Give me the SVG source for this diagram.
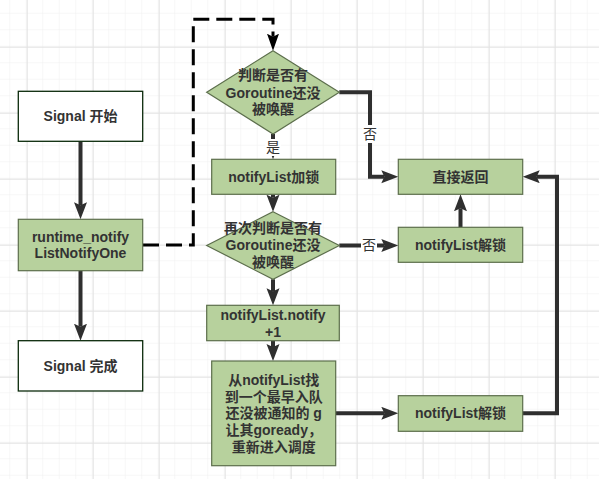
<svg xmlns="http://www.w3.org/2000/svg" width="599" height="479" viewBox="0 0 599 479">
<defs>
<pattern id="minor" x="10.2" y="13.7" width="16.5" height="16.5" patternUnits="userSpaceOnUse">
<path d="M16.5,0 V16.5 M0,16.5 H16.5" fill="none" stroke="#f0f0f0" stroke-width="1"/>
</pattern>
<pattern id="major" x="26.7" y="46.7" width="66" height="66" patternUnits="userSpaceOnUse">
<path d="M0.5,0 V66 M0,0.5 H66" fill="none" stroke="#e2e2e2" stroke-width="1"/>
</pattern>
<marker id="arr" markerUnits="userSpaceOnUse" markerWidth="18" markerHeight="14" refX="3" refY="6.5" orient="auto">
<path d="M0,0 L17,6.5 L0,13 L3,6.5 Z" fill="#2f2f2f"/>
</marker>
<marker id="arrk" markerUnits="userSpaceOnUse" markerWidth="18" markerHeight="14" refX="3" refY="6" orient="auto">
<path d="M0,0 L17,6 L0,12 L3,6 Z" fill="#000"/>
</marker>
<style>
.g{fill:#b7d19d;stroke:#5c6e4c;stroke-width:1.2}
.w{fill:#ffffff;stroke:#0b2a0b;stroke-width:1.3}
.t{font-family:"Liberation Sans","Noto Sans CJK SC",sans-serif;font-size:14px;font-weight:bold;fill:#333333;text-anchor:middle}
.l{font-family:"Liberation Sans","Noto Sans CJK SC",sans-serif;font-size:14px;fill:#333333;text-anchor:middle}
.c{fill:none;stroke:#2f2f2f;stroke-width:4;marker-end:url(#arr)}
.d{fill:none;stroke:#000;stroke-width:3;stroke-dasharray:16 7;marker-end:url(#arrk)}
</style>
</defs>
<rect width="599" height="479" fill="#ffffff"/>
<rect width="599" height="479" fill="url(#minor)"/>
<rect width="599" height="479" fill="url(#major)"/>

<g id="connectors">
<path class="c" d="M80.5,141.3 V205.3"/>
<path class="c" d="M80.5,270.7 V326.7"/>
<path class="d" d="M143,245 H193.3 V19.3 H273 V36.7"/>
<path class="c" d="M273,134 V145.3"/>
<path class="c" d="M339.3,92.3 H370 V176.7 H384.3"/>
<path class="c" d="M273,194.3 V197.7"/>
<path class="c" d="M339.3,245.5 H384.3"/>
<path class="c" d="M460.5,227.3 V208.3"/>
<path class="c" d="M273,279.3 V291.3"/>
<path class="c" d="M273,340.7 V347"/>
<path class="c" d="M336,413.3 H384.3"/>
<path class="c" d="M522.7,413.3 H557 V176.7 H536.7"/>
<rect x="265" y="139" width="16" height="17" fill="#ffffff"/>
<text class="l" x="273" y="152">是</text>
<rect x="362" y="125" width="16" height="18" fill="#ffffff"/>
<text class="l" x="370" y="139">否</text>
<rect x="361" y="237" width="16" height="17" fill="#ffffff"/>
<text class="l" x="369" y="250">否</text>
</g>

<g id="start">
<rect class="w" x="18.3" y="91.3" width="124.4" height="50"/>
<text class="t" x="80.5" y="121">Signal 开始</text>
</g>
<g id="runtime">
<rect class="g" x="18.3" y="219.3" width="124.4" height="51.4"/>
<text class="t" x="80.5" y="241.7">runtime_notify</text>
<text class="t" x="80.5" y="258.3">ListNotifyOne</text>
</g>
<g id="done">
<rect class="w" x="18.3" y="340.7" width="124.4" height="50.3"/>
<text class="t" x="80.5" y="371">Signal 完成</text>
</g>
<g id="check1">
<polygon class="g" points="273,50.7 339.3,92.3 273,134 206.7,92.3"/>
<text class="t" x="273" y="80">判断是否有</text>
<text class="t" x="273" y="97.7">Goroutine还没</text>
<text class="t" x="273" y="114.3">被唤醒</text>
</g>
<g id="lock">
<rect class="g" x="211.7" y="159.3" width="124" height="35"/>
<text class="t" x="273.7" y="181.7">notifyList加锁</text>
</g>
<g id="check2">
<polygon class="g" points="273,211.7 339.3,245.5 273,279.3 206.7,245.5"/>
<text class="t" x="273" y="233.3">再次判断是否有</text>
<text class="t" x="273" y="250">Goroutine还没</text>
<text class="t" x="273" y="266.7">被唤醒</text>
</g>
<g id="notify">
<rect class="g" x="206.7" y="305.3" width="132.6" height="35.4"/>
<text class="t" x="273" y="320">notifyList.notify</text>
<text class="t" x="273" y="336.7">+1</text>
</g>
<g id="wake">
<rect class="g" x="211.7" y="361" width="124" height="104.7"/>
<text class="t" x="273.7" y="385">从notifyList找</text>
<text class="t" x="273.7" y="401.7">到一个最早入队</text>
<text class="t" x="273.7" y="418.3">还没被通知的 g</text>
<text class="t" x="273.7" y="435">让其goready，</text>
<text class="t" x="273.7" y="451.7">重新进入调度</text>
</g>
<g id="return">
<rect class="g" x="398.3" y="159.3" width="124.4" height="35"/>
<text class="t" x="460.5" y="181.7">直接返回</text>
</g>
<g id="unlock1">
<rect class="g" x="398.3" y="227.3" width="124.4" height="35"/>
<text class="t" x="460.5" y="249.7">notifyList解锁</text>
</g>
<g id="unlock2">
<rect class="g" x="398.3" y="395.7" width="124.4" height="35.6"/>
<text class="t" x="460.5" y="418.3">notifyList解锁</text>
</g>
</svg>
